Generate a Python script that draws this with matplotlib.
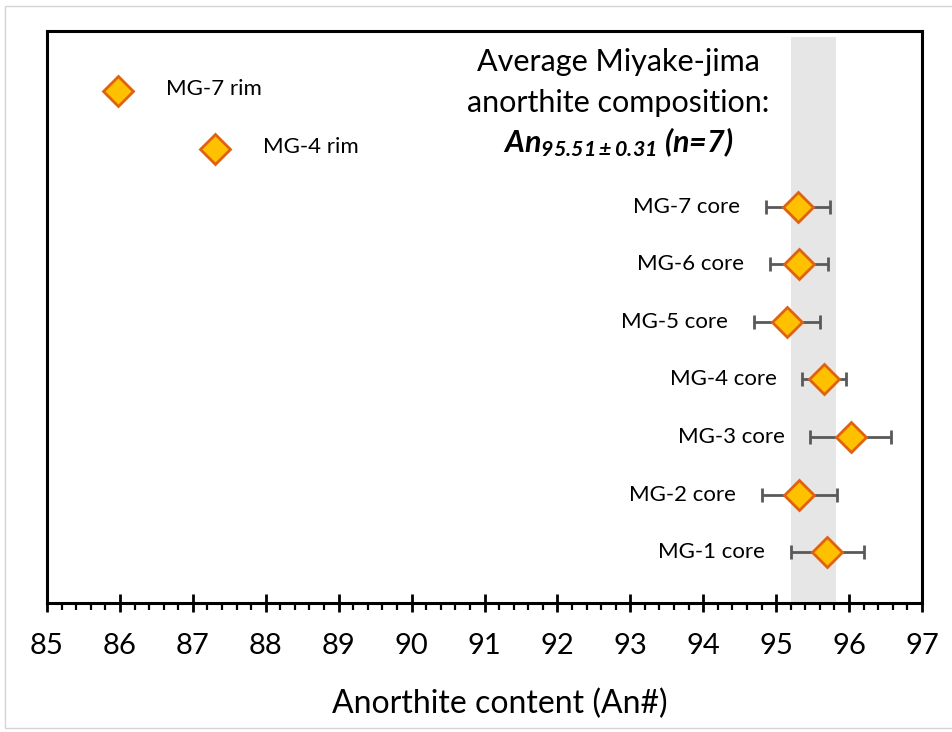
import numpy as np
import matplotlib
matplotlib.use("Agg")
import matplotlib.pyplot as plt
from matplotlib.patches import Rectangle
from matplotlib.ticker import MultipleLocator

plt.rcParams['font.family'] = ['Lato', 'DejaVu Sans']
plt.rcParams['mathtext.fontset'] = 'custom'
plt.rcParams['mathtext.rm'] = 'Lato'
plt.rcParams['mathtext.it'] = 'Lato:italic'
plt.rcParams['mathtext.bf'] = 'Lato:bold'
plt.rcParams['mathtext.bfit'] = 'Lato:bold:italic'

# core analyses (An#, 1 sd)
core_labels = ['MG-1 core', 'MG-2 core', 'MG-3 core', 'MG-4 core',
               'MG-5 core', 'MG-6 core', 'MG-7 core']
core_an = [95.70, 95.32, 96.02, 95.66, 95.15, 95.31, 95.30]
core_sd = [0.50, 0.52, 0.55, 0.30, 0.45, 0.40, 0.44]
core_row = [1, 2, 3, 4, 5, 6, 7]

# rim analyses
rim_labels = ['MG-4 rim', 'MG-7 rim']
rim_an = [87.31, 85.97]
rim_row = [8, 9]

avg_an = 95.51
avg_sd = 0.31
n_core = 7

fill = '#FFC000'
edge = '#E0620F'

fig = plt.figure(figsize=(9.52, 7.32), dpi=100)
ax = fig.add_axes([47/952, 1-603/732, 875/952, 572/732])

# light frame around the whole figure
fig.patches.append(Rectangle((5/952, 4/732), 1.0, 1-10/732, transform=fig.transFigure,
                             fill=False, edgecolor='#d4d4d4', lw=1.0))

ax.axvspan(avg_an - avg_sd, avg_an + avg_sd, ymax=0.99, color='#E6E6E6', zorder=0, lw=0)

ax.errorbar(core_an, core_row, xerr=core_sd, fmt='none', ecolor='#595959',
            elinewidth=2, capsize=5, capthick=2, zorder=2)
ax.plot(core_an, core_row, ls='none', marker='D', ms=15, mfc=fill, mec=edge, mew=2, zorder=3)
ax.plot(rim_an, rim_row, ls='none', marker='D', ms=15, mfc=fill, mec=edge, mew=2, zorder=3)

for lab, x, sd, y in zip(core_labels, core_an, core_sd, core_row):
    ax.annotate(lab, (x - sd, y), xytext=(-26, 0), textcoords='offset pixels',
                ha='right', va='center', fontsize=16)
for lab, x, y in zip(rim_labels, rim_an, rim_row):
    ax.annotate(lab, (x, y), xytext=(48, 2), textcoords='offset pixels',
                ha='left', va='center', fontsize=16)

tx = (618 - 47) / 875
ax.text(tx, 0.946, 'Average Miyake-jima', transform=ax.transAxes,
        ha='center', va='center', fontsize=22)
ax.text(tx, 0.874, 'anorthite composition:', transform=ax.transAxes,
        ha='center', va='center', fontsize=22)
ax.text(tx, 0.806, r'$\mathbfit{An}_{\mathbfit{%.2f \pm %.2f}}$ (n=%d)' % (avg_an, avg_sd, n_core),
        transform=ax.transAxes, ha='center', va='center', fontsize=22,
        fontweight='bold', style='italic')

ax.set_xlim(85, 97)
ax.set_ylim(0.12, 10.05)
ax.xaxis.set_major_locator(MultipleLocator(1))
ax.xaxis.set_minor_locator(MultipleLocator(0.2))
ax.tick_params(axis='x', which='major', direction='inout', length=13, width=2,
               labelsize=21, pad=15)
ax.tick_params(axis='x', which='minor', direction='out', length=5, width=1.6)
ax.set_yticks([])
for s in ax.spines.values():
    s.set_linewidth(2.2)

ax.set_xlabel('Anorthite content (An#)', fontsize=23)
ax.xaxis.set_label_coords((500 - 47) / 875, -0.15)

fig.savefig('out.png', dpi=100)
